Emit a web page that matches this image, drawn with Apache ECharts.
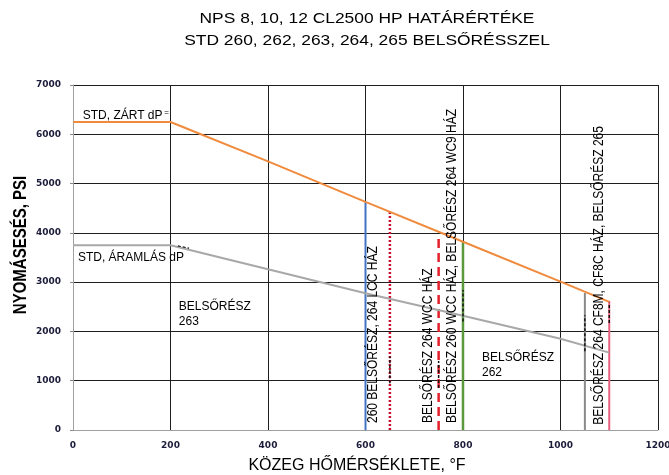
<!DOCTYPE html>
<html>
<head>
<meta charset="utf-8">
<script src="https://cdn.jsdelivr.net/npm/echarts@6/dist/echarts.min.js"></script>
<style>html,body{margin:0;padding:0;background:#fff}#c{width:669px;height:475px}</style>
</head>
<body>
<div id="c"></div>
<script>
// ---- data ----
const titleLines = ['NPS 8, 10, 12 CL2500 HP HATÁRÉRTÉKE', 'STD 260, 262, 263, 264, 265 BELSŐRÉSSZEL'];
const xAxisName = 'KÖZEG HŐMÉRSÉKLETE, °F';
const yAxisName = 'NYOMÁSESÉS, PSI';
const temps = [0, 200, 400, 600, 800, 1000, 1100];
const closedDP = [6250, 6250, 5450, 4630, 3820, 3010, 2600];
const flowDP = [3750, 3750, 3260, 2775, 2320, 1850, 1570];
const limitTemps = [600, 650, 750, 800, 1050, 1100];
const limitTops = [4630, 4430, 3950, 3820, 2780, 2620];
const markTemps = [650, 750, 800, 1050, 1100];
const markLow = [950, 850, 2200, 1600, 2170];
const markHigh = [1490, 1400, 2840, 2330, 2580];
const leaderFrom = [215, 3735];
const leaderTo = [238, 3690];
const xTicks = [0, 200, 400, 600, 800, 1000, 1200];
const yTicks = [0, 1000, 2000, 3000, 4000, 5000, 6000, 7000];
const hLabels = ['STD, ZÁRT dP', 'STD, ÁRAMLÁS dP', 'BELSŐRÉSZ\n263', 'BELSŐRÉSZ\n262'];
const hLabelAt = [[20, 6370], [10, 3490], [217, 2353], [839, 1319]];
const vLabels = ['260 BELSŐRÉSZ, 264 LCC HÁZ', 'BELSŐRÉSZ 264 WCC HÁZ',
  'BELSŐRÉSZ 260 WCC HÁZ, BELSŐRÉSZ 264 WC9 HÁZ', 'BELSŐRÉSZ 264 CF8M, CF8C HÁZ, BELSŐRÉSZ 265'];
const vLabelAt = [[615, 142], [728, 142], [777, 142], [1078, 105]];

// ---- styles ----
const limitStyles = [
  {color: '#4472C4', width: 2, type: 'solid'},
  {color: '#C8102E', width: 2.5, type: [2, 2]},
  {color: '#E2202C', width: 2.5, type: [9, 5]},
  {color: '#5B9A3C', width: 2.5, type: 'solid'},
  {color: '#8A8A8A', width: 2, type: 'solid'},
  {color: '#E8607E', width: 2, type: 'solid'}
];

const chart = echarts.init(document.getElementById('c'), null, {renderer: 'canvas'});
const series = [];
series.push({type: 'line', data: temps.map((t, i) => [t, closedDP[i]]), symbol: 'none',
  lineStyle: {color: '#F08A3C', width: 2}, z: 5, animation: false});
series.push({type: 'line', data: temps.map((t, i) => [t, flowDP[i]]), symbol: 'none',
  lineStyle: {color: '#A8A8A8', width: 2}, z: 5, animation: false});
limitTemps.forEach((t, i) => {
  series.push({type: 'line', data: [[t, 0], [t, limitTops[i]]], symbol: 'none',
    lineStyle: limitStyles[i], z: 4, animation: false});
});
markTemps.forEach((t, i) => {
  series.push({type: 'line', data: [[t, markLow[i]], [t, markHigh[i]]], symbol: 'none',
    lineStyle: {color: '#111', width: 1.5, type: [3, 2]}, z: 6, animation: false});
});
series.push({type: 'line', data: [leaderFrom, leaderTo], symbol: 'none',
  lineStyle: {color: '#111', width: 1.2, type: [3, 2]}, z: 6, animation: false});

const tickFont = {fontFamily: 'DejaVu Sans', fontWeight: 'bold', fontSize: 9, color: '#1b1b3a',
  formatter: (v) => String(v)};
chart.setOption({
  animation: false,
  grid: {left: 73, right: 11, top: 85, bottom: 45, containLabel: false, outerBoundsMode: 'none'},
  xAxis: {type: 'value', min: xTicks[0], max: xTicks[xTicks.length - 1], interval: 200,
    axisLine: {show: true, lineStyle: {color: '#A0A0A0', width: 1}},
    axisTick: {show: false},
    splitLine: {show: true, lineStyle: {color: '#1e1e1e', width: 1}},
    axisLabel: Object.assign({margin: 11}, tickFont)},
  yAxis: {type: 'value', min: yTicks[0], max: yTicks[yTicks.length - 1], interval: 1000,
    axisLine: {show: true, lineStyle: {color: '#A0A0A0', width: 1}},
    axisTick: {show: true, length: 3, lineStyle: {color: '#888'}},
    splitLine: {show: true, lineStyle: {color: '#1e1e1e', width: 1}},
    axisLabel: Object.assign({margin: 12}, tickFont)},
  series: series
});

const P = (pt) => chart.convertToPixel({gridIndex: 0}, pt);
const graphics = [];
graphics.push({type: 'text', x: 367, y: 19, scaleX: 1.16,
  style: {text: titleLines[0], font: '15px "Liberation Sans"', fill: '#000', align: 'center', verticalAlign: 'middle'}});
graphics.push({type: 'text', x: 367, y: 41, scaleX: 1.16,
  style: {text: titleLines[1], font: '15px "Liberation Sans"', fill: '#000', align: 'center', verticalAlign: 'middle'}});
graphics.push({type: 'text', x: 357, y: 466, 
  style: {text: xAxisName, font: '16px "Liberation Sans"', fill: '#000', align: 'center', verticalAlign: 'middle'}});
graphics.push({type: 'text', x: 21, y: 245, rotation: Math.PI / 2, scaleY: 1.25,
  style: {text: yAxisName, font: 'bold 15px "Liberation Sans"', fill: '#000', align: 'center', verticalAlign: 'middle'}});
hLabels.forEach((s, i) => {
  const p = P(hLabelAt[i]);
  graphics.push({type: 'text', x: p[0], y: p[1], z: 20,
    style: {text: s, font: '12px "Liberation Sans"', lineHeight: 15, fill: '#000', align: 'left', verticalAlign: 'middle'}});
});
vLabels.forEach((s, i) => {
  const p = P(vLabelAt[i]);
  graphics.push({type: 'text', x: p[0], y: p[1], rotation: Math.PI / 2, scaleY: 1.25, z: 20,
    style: {text: s, font: '12px "Liberation Sans"', fill: '#000', align: 'left', verticalAlign: 'middle'}});
});
// small leader mark next to the STD label
const z1 = P([192, 6430]);
graphics.push({type: 'text', x: z1[0], y: z1[1], z: 20,
  style: {text: '=', font: '8px "Liberation Sans"', fill: '#000', align: 'center', verticalAlign: 'middle'}});
chart.setOption({graphic: graphics});
</script>
</body>
</html>
